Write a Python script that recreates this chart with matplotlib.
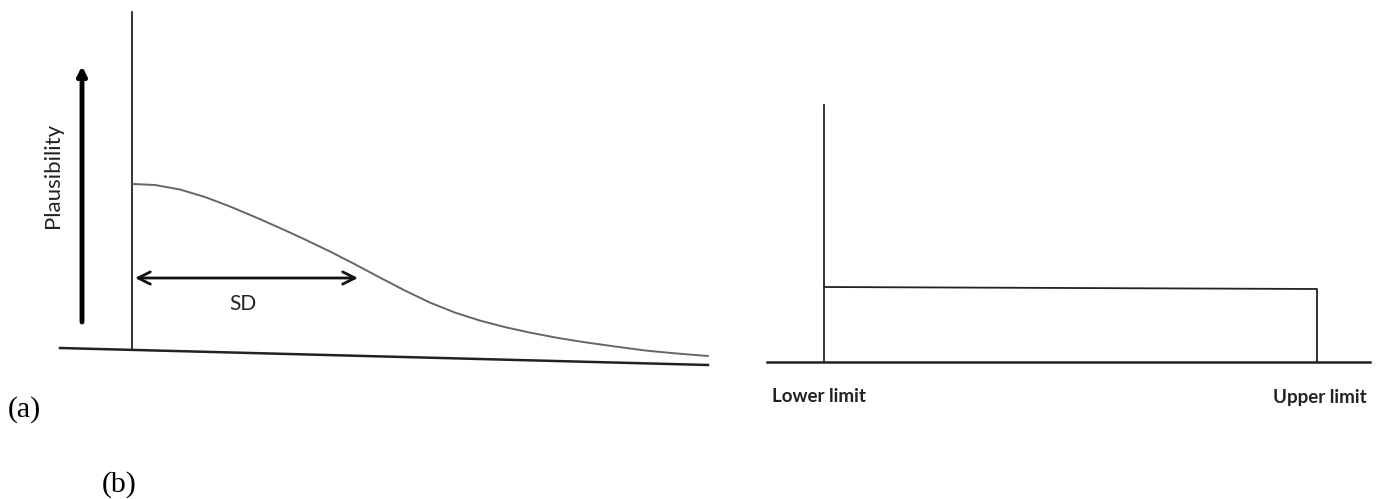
import matplotlib
matplotlib.use("Agg")
import matplotlib.pyplot as plt

# ---- data (pixel-like units, y grows downward) ----
curve_x = [133, 155, 180, 205, 230, 255, 280, 305, 330, 355, 380, 405, 430,
           455, 480, 505, 530, 556, 583, 615, 647, 678, 708]
curve_y = [184.0, 185.0, 189.5, 197.0, 206.5, 217.0, 228.0, 239.5, 251.5,
           264.3, 277.6, 290.6, 302.6, 312.6, 320.6, 327.1, 332.6, 337.6,
           342.0, 346.5, 350.7, 353.6, 356.0]

left_axis_x = [132, 132]
left_axis_y = [12, 350]
left_base_x = [60, 708]
left_base_y = [348, 365]
sd_arrow_x = [135, 358]
sd_arrow_y = [278, 278]
plaus_arrow_x = [82, 82]
plaus_arrow_y = [322, 66]

right_axis_x = [824, 824]
right_axis_y = [105, 362]
uniform_x = [824, 1317, 1317]
uniform_y = [287, 289, 362]
right_base_x = [767, 1370]
right_base_y = [362, 362]

labels = {
    "plaus": "Plausibility",
    "sd": "SD",
    "lower": "Lower limit",
    "upper": "Upper limit",
    "a": "(a)",
    "b": "(b)",
}

fig = plt.figure(figsize=(13.89, 4.99), dpi=100)
ax = fig.add_axes([0, 0, 1, 1])
ax.set_xlim(0, 1389)
ax.set_ylim(499, 0)
ax.axis("off")

# left panel
ax.plot(left_axis_x, left_axis_y, color="#222222", lw=1.3)
ax.plot(left_base_x, left_base_y, color="#222222", lw=1.8)
ax.plot(curve_x, curve_y, color="#666666", lw=1.4, solid_joinstyle="round",
        solid_capstyle="round")
ax.annotate("", xy=(sd_arrow_x[1], sd_arrow_y[1]), xytext=(sd_arrow_x[0], sd_arrow_y[0]),
            arrowprops=dict(arrowstyle="<->", color="#111111", lw=2.0,
                            mutation_scale=22, shrinkA=0, shrinkB=0))
ax.annotate("", xy=(plaus_arrow_x[1], plaus_arrow_y[1]),
            xytext=(plaus_arrow_x[0], plaus_arrow_y[0]),
            arrowprops=dict(arrowstyle="->", color="black", lw=3.5,
                            mutation_scale=13, shrinkA=0, shrinkB=0))
ax.text(53, 175, labels["plaus"], rotation=90, ha="center", va="center",
        fontsize=16, family="Lato", color="#222222")
ax.text(243, 304, labels["sd"], ha="center", va="center",
        fontsize=15, family="Lato", color="#222222")

# right panel
ax.plot(right_axis_x, right_axis_y, color="#222222", lw=1.3)
ax.plot(uniform_x, uniform_y, color="#222222", lw=1.3)
ax.plot(right_base_x, right_base_y, color="#222222", lw=1.8)
ax.text(772, 397, labels["lower"], ha="left", va="center",
        fontsize=13.5, family="Lato", fontweight="bold", color="#222222")
ax.text(1367, 397, labels["upper"], ha="right", va="center",
        fontsize=13.5, family="Lato", fontweight="bold", color="#222222")

# panel labels
ax.text(8, 410, labels["a"], ha="left", va="center",
        fontsize=21.5, family="Liberation Serif", color="black")
ax.text(102, 485, labels["b"], ha="left", va="center",
        fontsize=21.5, family="Liberation Serif", color="black")

fig.savefig("out.png", dpi=100)
